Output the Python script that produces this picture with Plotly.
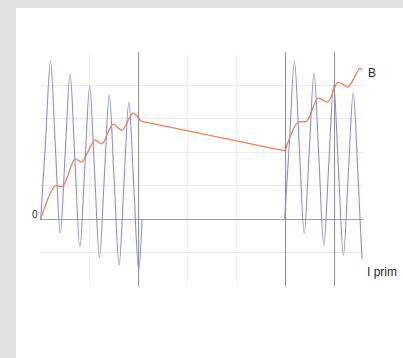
import plotly.graph_objects as go

# ---- data (time in ms, values in grid units) ----
i_prim_t1 = [0, 5, 10, 15, 20, 25, 30, 35, 40, 45, 50, 55, 60, 65, 70, 75, 80, 85, 90, 95, 100, 103.5]
i_prim_v1 = [0, 2.35, 4.73, 2.15, -0.42, 1.95, 4.34, 1.75, -0.84, 1.55, 3.98, 1.42, -1.14, 1.28, 3.71, 1.17, -1.38, 1.06, 3.5, 1.0, -1.53, 0.0]

i_prim_t2 = [249, 254, 259, 264, 269, 274, 279, 284, 289, 294, 299, 304, 309, 314, 319, 324, 328]
i_prim_v2 = [0, 2.35, 4.73, 2.15, -0.42, 1.97, 4.37, 1.8, -0.78, 1.6, 4.01, 1.47, -1.08, 1.35, 3.77, 1.22, -1.2]

b_t1 = [0, 14.6, 22.8, 35, 42, 55.4, 62.6, 73.8, 83, 94.2, 99.3, 102]
b_v1 = [0, 0.99, 0.99, 1.80, 1.71, 2.37, 2.25, 2.84, 2.66, 3.17, 3.05, 2.93]
b_t_decay = [102, 249.3]
b_v_decay = [2.93, 2.04]
b_t2 = [249.3, 262.6, 271.7, 283, 293, 303.4, 313.6, 325.8, 328]
b_v2 = [2.04, 2.90, 2.93, 3.62, 3.50, 4.10, 3.95, 4.52, 4.45]

marker_lines = [100, 250, 300]
y_range = [-2, 5]
x_range = [-0.7, 329]

BLUE = "#8a8fd2"
ORANGE = "#ec8058"
TXT = "#2a2a2a"

fig = go.Figure()
fig.add_trace(go.Scatter(x=i_prim_t1 + [None] + i_prim_t2, y=i_prim_v1 + [None] + i_prim_v2,
                         mode="lines", line=dict(color=BLUE, width=1.1, shape="spline", smoothing=1),
                         connectgaps=False, hoverinfo="skip", showlegend=False))
for xs, ys, shp in [(b_t1, b_v1, "spline"), (b_t_decay, b_v_decay, "linear"), (b_t2, b_v2, "spline")]:
    fig.add_trace(go.Scatter(x=xs, y=ys, mode="lines",
                             line=dict(color=ORANGE, width=1.3, shape=shp, smoothing=0.8),
                             hoverinfo="skip", showlegend=False))

W, H = 403, 358
L, R, T, B = 40, 40, 52, 72
pw, ph = W - L - R, H - T - B

shapes = [dict(type="rect", xref="paper", yref="paper", layer="below",
               x0=(16 - L) / pw, x1=(W - L) / pw + 0.05,
               y0=(H - B - H) / ph - 0.05, y1=(H - B - 8) / ph,
               fillcolor="white", line=dict(width=0))]
for xv in marker_lines:
    shapes.append(dict(type="line", xref="x", yref="y", x0=xv, x1=xv, y0=y_range[0], y1=y_range[1],
                       line=dict(color="#8a8a8a", width=1), layer="above"))

annotations = [
    dict(text="0", xref="paper", yref="y", x=(35 - L) / pw, y=0.14, xanchor="center", yanchor="middle",
         showarrow=False, font=dict(size=10, color=TXT, family="Liberation Sans, Arial")),
    dict(text="B", xref="paper", yref="y", x=(366 - L) / pw, y=4.37, xanchor="left", yanchor="middle",
         showarrow=False, font=dict(size=12, color=TXT, family="Liberation Sans, Arial")),
    dict(text="I prim", xref="paper", yref="y", x=(365 - L) / pw, y=-1.59, xanchor="left", yanchor="middle",
         showarrow=False, font=dict(size=12, color=TXT, family="Liberation Sans, Arial")),
]

fig.update_layout(
    width=W, height=H,
    margin=dict(l=L, r=R, t=T, b=B, pad=0),
    paper_bgcolor="#e1e1e1",
    plot_bgcolor="rgba(0,0,0,0)",
    shapes=shapes,
    annotations=annotations,
    xaxis=dict(range=x_range, dtick=50, tick0=0, showgrid=True, gridcolor="#f1f1f1", gridwidth=1,
               zeroline=False, showticklabels=False, ticks="", showline=False, fixedrange=True),
    yaxis=dict(range=y_range, dtick=1, tick0=0, showgrid=True, gridcolor="#e9e9e9", gridwidth=1,
               zeroline=True, zerolinecolor="#9a9aa8", zerolinewidth=1,
               showticklabels=False, ticks="", showline=False, fixedrange=True),
)

fig.write_html("out.html", config={"displayModeBar": False},
               post_script="document.body.style.margin='0';document.body.style.overflow='hidden';")
